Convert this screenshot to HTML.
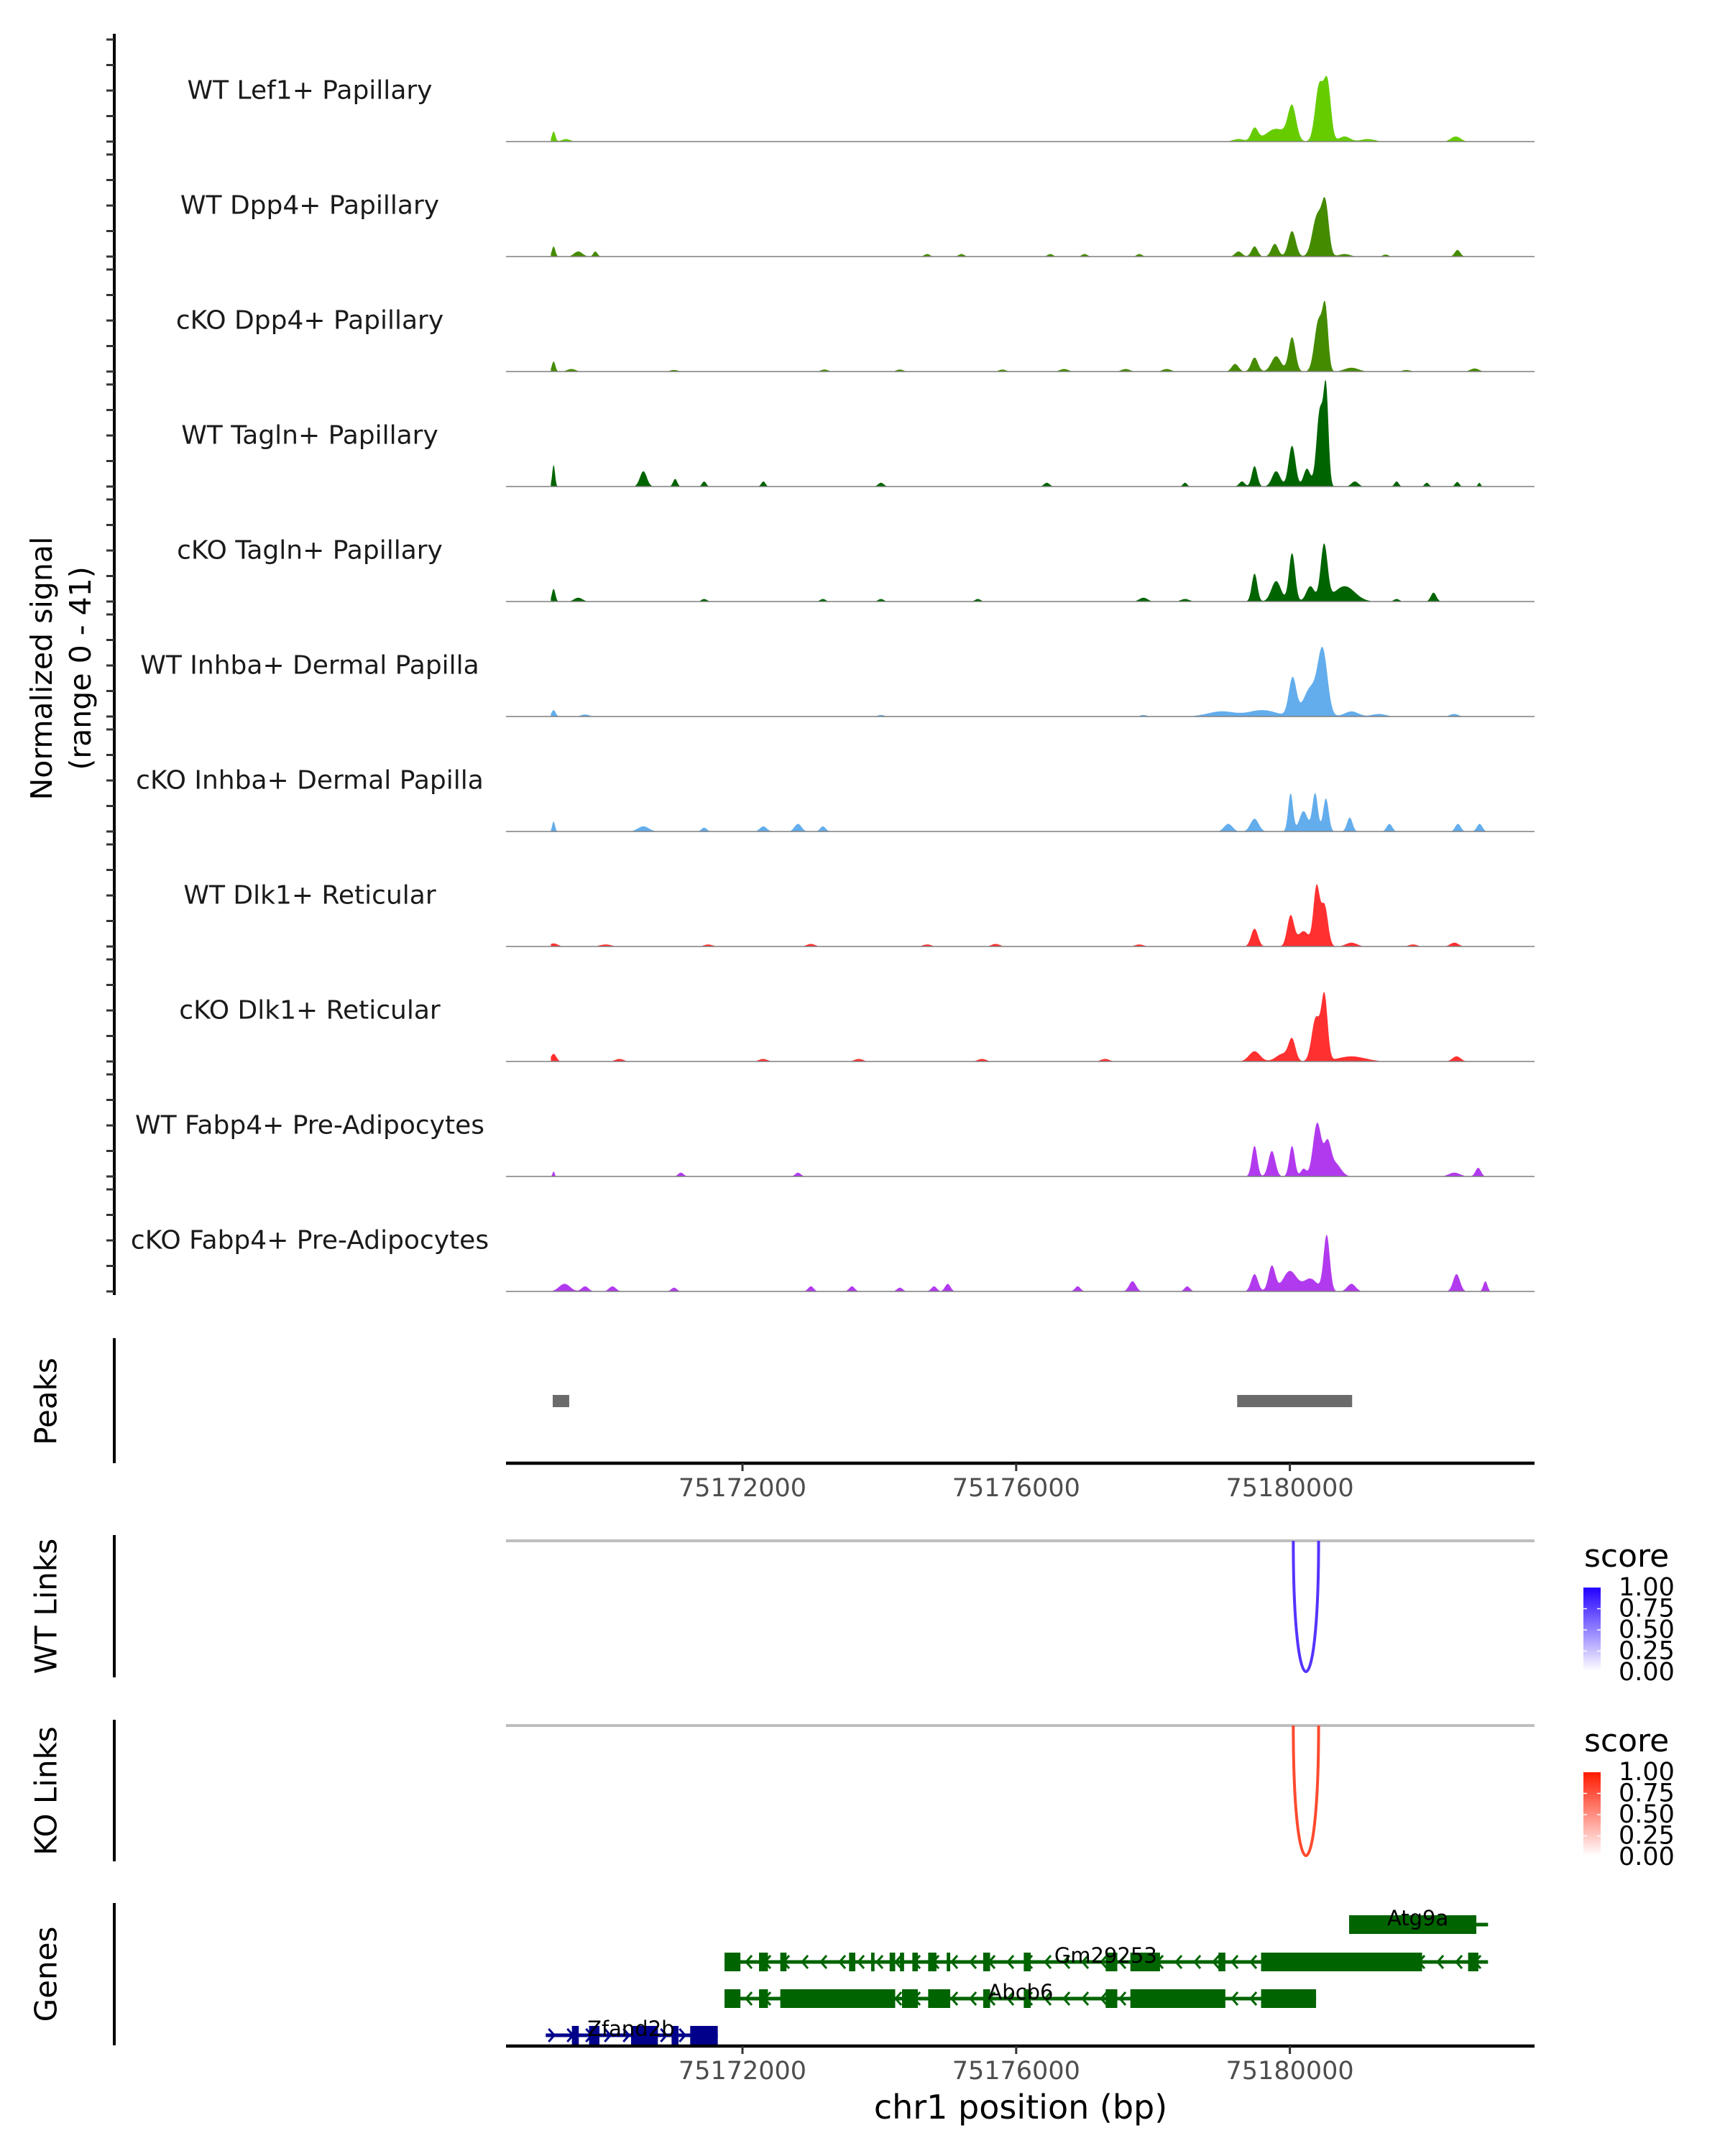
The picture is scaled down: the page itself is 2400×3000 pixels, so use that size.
<!DOCTYPE html>
<html><head><meta charset="utf-8">
<style>
html,body{margin:0;padding:0;background:#fff;}
svg{display:block;font-family:"DejaVu Sans","Liberation Sans",sans-serif;}
</style></head>
<body>
<svg id="chart" width="2400" height="3000" viewBox="0 0 2400 3000" xmlns="http://www.w3.org/2000/svg">
<g id="tracks"></g>
<g id="peaks"></g>
<g id="links"></g>
<g id="genes"></g>
<g id="axes"></g>
</svg>
<script>
// ---- data ----
const trackNames = ["WT Lef1+ Papillary","WT Dpp4+ Papillary","cKO Dpp4+ Papillary","WT Tagln+ Papillary","cKO Tagln+ Papillary","WT Inhba+ Dermal Papilla","cKO Inhba+ Dermal Papilla","WT Dlk1+ Reticular","cKO Dlk1+ Reticular","WT Fabp4+ Pre-Adipocytes","cKO Fabp4+ Pre-Adipocytes"];
const trackColors = ["#66CC00","#458B00","#458B00","#006400","#006400","#63ADEC","#63ADEC","#FF3030","#FF3030","#B23AEE","#B23AEE"];
// peaks per track: [position bp, height, width bp]
const sigLef1 = [[75169240,4,25],[75169420,1,60],[75179250,1,80],[75179484,5,50],[75179800,5,150],[75180032,13,60],[75180430,22,60],[75180550,22,50],[75180800,2,80],[75181139,1,100],[75182425,2,70]];
const sigDpp4WT = [[75169240,4,25],[75169600,2,60],[75169850,2,30],[75174700,1,40],[75175200,1,40],[75176500,1,40],[75177000,1,40],[75177800,1,40],[75179250,2,50],[75179484,4,45],[75179780,5,50],[75180032,10,55],[75180400,16,70],[75180520,19,50],[75180800,1,80],[75181400,0.8,40],[75182450,2.6,40]];
const sigDpp4KO = [[75169240,4,25],[75169500,1,60],[75171000,0.6,60],[75173200,0.8,50],[75174300,0.8,50],[75175800,0.8,50],[75176700,1,60],[75177600,1,60],[75178200,1,60],[75179200,3,50],[75179484,5.5,50],[75179800,6,70],[75180032,13.5,50],[75180420,20,60],[75180520,22,40],[75180900,1.5,100],[75181700,0.6,60],[75182700,1.2,60]];
const sigTaglnWT = [[75169240,8.6,20],[75170552,6,50],[75171016,3,30],[75171440,2,30],[75172306,2,30],[75174024,1.5,40],[75176448,1.5,40],[75178468,1.5,30],[75179300,2,40],[75179484,8,40],[75179800,6,60],[75180032,16,50],[75180250,7,50],[75180440,30,50],[75180530,35,35],[75180950,2,50],[75181560,2,30],[75182000,1.5,30],[75182446,1.8,30],[75182769,1.5,20]];
const sigTaglnKO = [[75169240,5,25],[75169600,1.5,60],[75171440,1,40],[75173176,1,40],[75174024,1,40],[75175440,1,40],[75177860,1.5,60],[75178468,1,60],[75179484,11,40],[75179800,8,70],[75180032,19,45],[75180300,6,60],[75180500,22,50],[75180800,6,150],[75181560,1,40],[75182100,3.5,40]];
const sigInhbaWT = [[75169240,2.5,30],[75169700,0.8,60],[75174024,0.6,50],[75177860,0.6,50],[75179000,2,200],[75179600,2.5,200],[75180040,15,55],[75180300,11,100],[75180480,25,70],[75180900,2,100],[75181300,1,100],[75182400,1,60]];
const sigInhbaKO = [[75169240,4,20],[75170552,2,80],[75171440,1.5,40],[75172306,2,50],[75172812,3,50],[75173176,2,40],[75179100,3,60],[75179484,5,60],[75180011,15,35],[75180200,8,60],[75180369,15,40],[75180527,13,40],[75180875,5.5,40],[75181455,3,40],[75182457,3,40],[75182773,3,40]];
const sigDlk1WT = [[75169240,1.2,60],[75170000,0.8,80],[75171500,0.8,60],[75173000,1,60],[75174700,0.8,60],[75175700,1,60],[75177800,0.8,60],[75179484,7,50],[75180011,12,50],[75180200,6,80],[75180390,23,45],[75180506,16,50],[75180900,1.5,80],[75181800,0.8,60],[75182404,1.5,60]];
const sigDlk1KO = [[75169240,3,40],[75170200,1,60],[75172300,1,60],[75173700,1,60],[75175500,1,60],[75177300,1,60],[75179484,4,80],[75179900,3,100],[75180032,8,50],[75180380,17,60],[75180506,25,45],[75180900,2,200],[75182436,2,60]];
const sigFabp4WT = [[75169240,2,15],[75171100,1.5,40],[75172812,1.5,40],[75179484,12,40],[75179737,10,50],[75180032,12,40],[75180200,3,40],[75180400,21,60],[75180550,12,50],[75180665,5,80],[75182404,1.5,80],[75182752,3.4,40]];
const sigFabp4KO = [[75169400,3,80],[75169700,2,50],[75170100,2,50],[75171000,1.5,40],[75173000,2,40],[75173600,2,40],[75174300,1.5,40],[75174800,2,40],[75175000,3,40],[75176900,2,40],[75177700,4,50],[75178500,2,40],[75179484,6.8,50],[75179737,10,50],[75180000,8,100],[75180300,5,100],[75180538,22,45],[75180900,3,60],[75182436,6.8,50],[75182857,4,30]];
const trackSignals = [sigLef1,sigDpp4WT,sigDpp4KO,sigTaglnWT,sigTaglnKO,sigInhbaWT,sigInhbaKO,sigDlk1WT,sigDlk1KO,sigFabp4WT,sigFabp4KO];
const xTicks = [75172000,75176000,75180000];
const peakRegions = [[75169227,75169468],[75179230,75180910]];
const wtLinks = [[75180050,75180420,0.8]];
const koLinks = [[75180050,75180420,0.8]];
const legendTicks = ["1.00","0.75","0.50","0.25","0.00"];
const geneNames = ["Atg9a","Gm29253","Abcb6","Zfand2b"];
const geneStrands = ["-","-","-","+"];
const geneColors = ["#006400","#006400","#006400","#00008B"];
const geneSpans = [[75180866,75182896],[75171738,75182896],[75171738,75180383],[75169125,75171639]];
const exonsAtg9a = [[75180866,75182725]];
const exonsGm = [[75171738,75171970],[75172242,75172372],[75172553,75172644],[75173558,75173649],[75173880,75173930],[75174151,75174232],[75174302,75174362],[75174483,75174563],[75174714,75174835],[75174985,75175036],[75175518,75175619],[75176111,75176212],[75177308,75177478],[75177669,75178102],[75178956,75179057],[75179579,75181932],[75182605,75182755]];
const exonsAbcb6 = [[75171738,75171970],[75172242,75172372],[75172553,75174232],[75174332,75174563],[75174714,75175036],[75175518,75175619],[75176111,75176212],[75177308,75177478],[75177669,75179057],[75179579,75180383]];
const exonsZfand = [[75169507,75169608],[75169758,75169910],[75170372,75170764],[75170964,75171065],[75171236,75171639]];
const geneExons = [exonsAtg9a,exonsGm,exonsAbcb6,exonsZfand];
const geneLabelPos = [75181870,75177308,75176065,75170370];

// ---- scales ----
const X0=704, X1=2135, BP0=75168540, BPPX=0.0952;
const REF=75172000, REFX=1033;
function xs(bp){return REFX+(bp-REF)*BPPX;}
const BASE0=197, TRACKH=160, UNIT=3.55;
const NS='http://www.w3.org/2000/svg';
function el(tag,attrs,parent){const e=document.createElementNS(NS,tag);for(const k in attrs)e.setAttribute(k,attrs[k]);parent.appendChild(e);return e;}

const gT=document.getElementById('tracks');
trackNames.forEach((nm,i)=>{
  const base=BASE0+TRACKH*i;
  const g=el('g',{},gT);
  
  
  const lab=el('text',{x:431,y:base-71,'font-size':36,fill:'#1a1a1a','text-anchor':'middle','dominant-baseline':'central'},g);
  lab.textContent=nm;
  
  
  const sig=trackSignals[i];
  let d='M'+xs(75169200).toFixed(1)+','+base;
  for(let bp=75169200; bp<=75183000; bp+=12){
    let v=0;
    sig.forEach(p=>{const z=(bp-p[0])/p[2]; if(Math.abs(z)<4) v+=p[1]*Math.exp(-0.5*z*z);});
    if(v<0.25) v=0;
    d+=' L'+xs(bp).toFixed(1)+','+(base-v*UNIT).toFixed(1);
  }
  d+=' L'+xs(75183000).toFixed(1)+','+base+' Z';
  const a=el('path',{d:d,fill:trackColors[i]},g);
  
  
  const bl=el('line',{x1:X0,x2:X1,y1:base,y2:base,stroke:'#7f7f7f','stroke-width':1.6},g);
  
  
});

// ---- axes ----
const gA=document.getElementById('axes');
const yl=el('line',{x1:159,x2:159,y1:47,y2:1802,stroke:'#000','stroke-width':4},gA);


for(let i=0;i<trackNames.length;i++){
  for(let k=0;k<5;k++){
    const y=BASE0+TRACKH*i-35.5*k;
    const t=el('line',{x1:148,x2:159,y1:y,y2:y,stroke:'#333','stroke-width':3},gA);
    
    
  }
}
const yt=el('text',{transform:'translate(86,930) rotate(-90)','font-size':41,'text-anchor':'middle',fill:'#000'},gA);


const ts1=el('tspan',{x:0,dy:-14},yt);ts1.textContent='Normalized signal';
const ts2=el('tspan',{x:0,dy:54},yt);ts2.textContent='(range 0 - 41)';

function sideTitle(txt,yc,name){
  const t=el('text',{transform:'translate(64,'+yc+') rotate(-90)','font-size':42,'text-anchor':'middle','dominant-baseline':'central',fill:'#000'},gA);
  t.textContent=txt;
  
  
}
function sideLine(y1,y2,name){
  const l=el('line',{x1:159,x2:159,y1:y1,y2:y2,stroke:'#000','stroke-width':4},gA);
  
  
}
sideTitle('Peaks',1950,'peaks-title');sideLine(1862,2036,'peaks-axis-line');
sideTitle('WT Links',2235,'wt-links-title');sideLine(2136,2334,'wt-links-axis-line');
sideTitle('KO Links',2492,'ko-links-title');sideLine(2393,2590,'ko-links-axis-line');
sideTitle('Genes',2747,'genes-title');sideLine(2648,2846,'genes-axis-line');

function xAxis(y,name){
  const l=el('line',{x1:X0,x2:X1,y1:y,y2:y,stroke:'#000','stroke-width':4.5},gA);
  
  
  xTicks.forEach(v=>{
    const t=el('line',{x1:xs(v),x2:xs(v),y1:y,y2:y+11,stroke:'#333','stroke-width':3},gA);
    
    
    const tl=el('text',{x:xs(v),y:y+35,'font-size':35,fill:'#4d4d4d','text-anchor':'middle','dominant-baseline':'central'},gA);
    tl.textContent=v;
    
    
  });
}
xAxis(2036,'peaks-x-axis');
xAxis(2847,'genes-x-axis');
const xt=el('text',{x:1420,y:2932,'font-size':46,fill:'#000','text-anchor':'middle','dominant-baseline':'central'},gA);
xt.textContent='chr1 position (bp)';



// ---- peaks ----
const gP=document.getElementById('peaks');
peakRegions.forEach(r=>{
  const b=el('rect',{x:xs(r[0]),y:1941,width:xs(r[1])-xs(r[0]),height:17,fill:'#6b6b6b'},gP);
  
  
});

// ---- links ----
const gL=document.getElementById('links');
function linkTrack(links,top,bottom,col,grad0,grad1,gid,name){
  const g=el('g',{},gL);
  
  
  const bl=el('line',{x1:X0,x2:X1,y1:top,y2:top,stroke:'#bebebe','stroke-width':4},g);
  
  
  links.forEach(l=>{
    const x1=xs(l[0]),x2=xs(l[1]),dep=(bottom-top)*4/3;
    const p=el('path',{d:`M${x1},${top} C${x1},${top+dep} ${x2},${top+dep} ${x2},${top}`,fill:'none',stroke:col,'stroke-width':4},g);
    
    
  });
  const lg=el('g',{},g);
  
  
  const defs=el('defs',{},lg);
  const gr=el('linearGradient',{id:gid,x1:0,y1:1,x2:0,y2:0},defs);
  el('stop',{offset:'0',"stop-color":grad0},gr);
  el('stop',{offset:'1',"stop-color":grad1},gr);
  const off=top-2144;
  const st=el('text',{x:2204,y:2180+off,'font-size':44,fill:'#000'},lg);
  st.textContent='score';
  
  
  const bar=el('rect',{x:2203,y:2209+off,width:24,height:116,fill:`url(#${gid})`},lg);
  
  
  legendTicks.forEach((t,k)=>{
    const y=2209+off+k*29.5;
    if(k>0&&k<4){el('line',{x1:2203,x2:2208,y1:y,y2:y,stroke:'#fff','stroke-width':1.5},lg);el('line',{x1:2222,x2:2227,y1:y,y2:y,stroke:'#fff','stroke-width':1.5},lg);}
    const tx=el('text',{x:2252,y:y,'font-size':35,fill:'#000','dominant-baseline':'central'},lg);
    tx.textContent=t;
    
    
  });
}
linkTrack(wtLinks,2144,2326,'#5533ff','#ffffff','#2200ff','gradWT','wt-links-track');
linkTrack(koLinks,2401,2582,'#ff4a2e','#ffffff','#ff1a00','gradKO','ko-links-track');

// ---- genes ----
const gG=document.getElementById('genes');
const rowY=[2678,2730,2781,2832];
geneNames.forEach((nm,i)=>{
  const g=el('g',{},gG);
  
  
  const y=rowY[i],c=geneColors[i];
  const sx1=xs(geneSpans[i][0]),sx2=xs(geneSpans[i][1]);
  const ln=el('line',{x1:sx1,x2:sx2,y1:y,y2:y,stroke:c,'stroke-width':5},g);
  
  
  for(let x=sx1+8;x<sx2-4;x+=26){
    const dir=geneStrands[i]==='-'?-1:1;
    el('path',{d:`M${x-dir*4},${y-9} L${x+dir*4},${y} L${x-dir*4},${y+9}`,fill:'none',stroke:c,'stroke-width':3},g);
  }
  geneExons[i].forEach(e=>{
    const r=el('rect',{x:xs(e[0]),y:y-13,width:Math.max(3,xs(e[1])-xs(e[0])),height:26,fill:c},g);
    
    
  });
  const lt=el('text',{x:xs(geneLabelPos[i]),y:y-9,'font-size':29,fill:'#000','text-anchor':'middle','dominant-baseline':'central'},g);
  lt.textContent=nm;
  
  
});
</script>
</body></html>
